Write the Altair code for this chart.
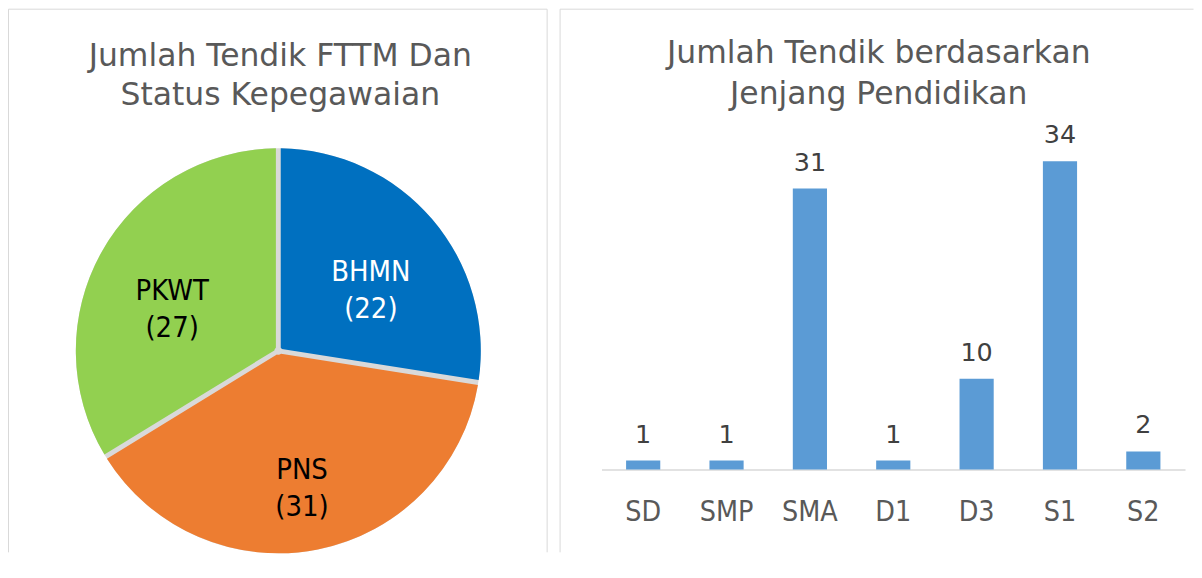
import altair as alt
import pandas as pd

# ---- data ----
status_cats = ["BHMN", "PNS", "PKWT"]
status_vals = [22, 31, 27]
status_colors = ["#0070C0", "#ED7D31", "#92D050"]

edu_cats = ["SD", "SMP", "SMA", "D1", "D3", "S1", "S2"]
edu_vals = [1, 1, 31, 1, 10, 34, 2]

title_left = "Jumlah Tendik FTTM Dan\nStatus Kepegawaian"
title_right = "Jumlah Tendik berdasarkan\nJenjang Pendidikan"

# ---- style ----
FONT_T = "DejaVu Sans, sans-serif"
FONT_C = "DejaVu Sans Condensed, DejaVu Sans, sans-serif"
BORDER = "#D9D9D9"
LW, RW, H = 541, 636, 545
CX, CY, R = 271, 343, 203

one = pd.DataFrame({"k": [0]})


def borders(w, right=True):
    base = alt.Chart(one)
    rs = [
        base.mark_rule(color=BORDER, strokeWidth=1).encode(
            x=alt.value(0.5), x2=alt.value(w - 0.5), y=alt.value(0.5)),
        base.mark_rule(color=BORDER, strokeWidth=1).encode(
            x=alt.value(0.5), y=alt.value(0.5), y2=alt.value(H)),
    ]
    if right:
        rs.append(base.mark_rule(color=BORDER, strokeWidth=1).encode(
            x=alt.value(w - 0.5), y=alt.value(0.5), y2=alt.value(H)))
    return rs


# ---- left: pie ----
pie_df = pd.DataFrame({"cat": status_cats, "val": status_vals,
                       "idx": list(range(len(status_cats)))})
pie_df["label"] = [f"{c}\n({v})" for c, v in zip(status_cats, status_vals)]

disc = alt.Chart(one).mark_arc(radius=R, theta=0, theta2=6.2832, color=BORDER).encode(
    x=alt.value(CX), y=alt.value(CY))

pie = alt.Chart(pie_df).mark_arc(radius=R, innerRadius=4, padAngle=0.024).encode(
    theta=alt.Theta("val:Q", stack=True),
    color=alt.Color("cat:N", scale=alt.Scale(domain=status_cats, range=status_colors), legend=None),
    order=alt.Order("idx:Q"),
    x=alt.value(CX), y=alt.value(CY),
)

pie_labels = alt.Chart(pie_df).mark_text(
    radius=122, font=FONT_C, fontSize=29, lineBreak="\n", lineHeight=37,
    align="center", baseline="middle").encode(
    theta=alt.Theta("val:Q", stack=True),
    order=alt.Order("idx:Q"),
    detail="cat:N",
    text="label:N",
    color=alt.condition("datum.cat == 'BHMN'", alt.value("white"), alt.value("black")),
    x=alt.value(CX), y=alt.value(CY),
)

t_left = alt.Chart(pd.DataFrame({"t": [title_left]})).mark_text(
    font=FONT_T, fontSize=31.5, color="#595959", lineBreak="\n", lineHeight=40,
    align="center", baseline="alphabetic").encode(
    text="t:N", x=alt.value(273), y=alt.value(57))

left = alt.layer(*borders(LW), disc, pie, pie_labels, t_left).properties(width=LW, height=H)

# ---- right: bars ----
bar_df = pd.DataFrame({"cat": edu_cats, "val": edu_vals})

xenc = alt.X("cat:N", sort=edu_cats,
             scale=alt.Scale(range=[42, 627], paddingInner=0.59, paddingOuter=0.295),
             axis=alt.Axis(title=None, orient="bottom", offset=-(H - 462), domainColor=BORDER,
                           domainWidth=1.5, ticks=False, tickSize=0, labelFont=FONT_C,
                           labelFontSize=28.5, labelColor="#595959", labelPadding=51,
                           labelBaseline="alphabetic", labelAngle=0))
yenc = alt.Y("val:Q", scale=alt.Scale(domain=[0, 34], range=[462, 153], nice=False, zero=True),
             axis=None)

bars = alt.Chart(bar_df).mark_bar(color="#5B9BD5").encode(x=xenc, y=yenc)
bar_labels = alt.Chart(bar_df).mark_text(
    font=FONT_T, fontSize=25.5, color="#404040", dy=-18, baseline="alphabetic", align="center").encode(
    x=alt.X("cat:N", sort=edu_cats), y="val:Q", text="val:Q")

t_right = alt.Chart(pd.DataFrame({"t": [title_right]})).mark_text(
    font=FONT_T, fontSize=31.5, color="#595959", lineBreak="\n", lineHeight=42,
    align="center", baseline="alphabetic").encode(
    text="t:N", x=alt.value(320), y=alt.value(54))

right = alt.layer(*borders(RW, right=False), bars, bar_labels, t_right).properties(width=RW, height=H)

chart = alt.hconcat(left, right, spacing=12).properties(
    padding=0, background="white").configure_view(stroke=None)

chart.save("out.html", embed_options={"renderer": "svg", "actions": False})
